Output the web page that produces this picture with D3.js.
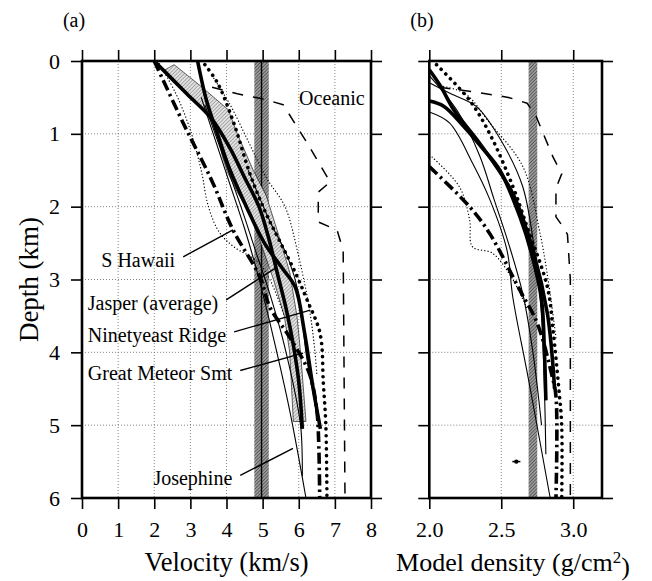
<!DOCTYPE html>
<html>
<head>
<meta charset="utf-8">
<script src="https://cdn.jsdelivr.net/npm/d3@7/dist/d3.min.js"></script>
<style>
  body { margin: 0; background: #fff; }
  svg text { font-family: "Liberation Serif", "DejaVu Serif", serif !important; fill: #000; }
</style>
</head>
<body>
<div id="chart"></div>
<script>
// ---------- data: [value, depth km] ----------
var velTicks = [0, 1, 2, 3, 4, 5, 6, 7, 8];
var denTicks = [2.0, 2.5, 3.0];
var depthTicks = [0, 1, 2, 3, 4, 5, 6];

// panel (a) velocity profiles
var velOceanic = [[3.6,0.36],[4.3,0.45],[5.0,0.52],[5.57,0.6],[6.2,1.1],[6.87,1.66],[6.54,1.8],[6.54,2.21],[7.06,2.32],[7.23,2.6],[7.28,6.0]];
var velHawaii = [[2.0,0],[2.8,0.85],[3.6,1.65],[4.18,2.32],[4.93,2.97],[5.2,3.38],[5.76,3.8],[6.3,4.3],[6.5,4.8],[6.55,5.2],[6.58,6.0]];
var velHawaiiB = [[2.1,0],[2.6,0.45],[3.0,0.95],[3.3,1.5],[3.5,2.0],[3.8,2.35],[4.2,2.55],[4.85,2.75],[5.2,3.0],[5.6,3.5]];
var velJasper = [[2.0,0],[2.9,0.45],[3.6,0.8],[4.1,1.2],[4.5,1.6],[4.9,2.0],[5.15,2.4],[5.4,2.9],[5.65,3.4],[5.85,3.9],[6.0,4.4],[6.1,5.05]];
var velJasperLo = [[2.3,0.12],[2.9,0.45],[3.35,0.67],[3.7,0.85],[3.78,1.05],[3.88,1.3],[4.02,1.52],[4.3,1.8],[4.65,2.1],[4.95,2.5],[5.3,3.0],[5.6,3.5],[5.75,4.0],[5.85,4.95]];
var velJasperHi = [[2.55,0.05],[3.3,0.35],[4.05,0.67],[4.3,1.0],[4.74,1.5],[5.1,1.85],[5.45,2.4],[5.75,2.9],[5.95,3.5],[6.05,4.0],[6.2,4.95]];
var velNinety = [[3.4,0.05],[3.75,0.3],[4.2,0.85],[4.65,1.55],[5.1,2.1],[5.5,2.5],[5.9,2.9],[6.23,3.28],[6.59,3.74],[6.68,4.42],[6.75,5.0],[6.78,6.0]];
var velNinetyB = [[3.6,0.2],[4.1,0.6],[4.6,1.1],[5.1,1.6],[5.62,2.0],[5.96,2.6],[6.3,3.42],[6.45,4.0],[6.5,4.3]];
var velMeteor = [[3.2,0],[3.45,0.55],[3.75,1.0],[4.1,1.5],[4.55,2.0],[5.05,2.5],[5.55,2.85],[5.9,3.1],[6.15,3.7],[6.4,4.5],[6.6,5.05]];
var velMeteorB = [[4.6,1.5],[5.2,2.2],[5.7,2.7],[6.0,3.2],[6.2,4.0],[6.35,4.45],[6.45,4.6]];
var velJoseA = [[3.3,0.5],[3.7,1.1],[4.1,1.7],[4.5,2.3],[4.85,2.9],[5.3,3.8],[5.75,4.8],[6.2,6.0]];
var velJoseB = [[3.4,0.6],[3.9,1.3],[4.4,2.0],[4.8,2.6],[5.2,3.2],[5.6,3.9],[6.05,5.0],[6.1,5.7]];
var velBand = [4.77, 5.17], velBandLine = 4.97;

// panel (b) density profiles
var denOceanic = [[2.07,0.36],[2.3,0.42],[2.55,0.5],[2.68,0.58],[2.74,0.75],[2.86,1.32],[2.92,1.55],[2.88,1.75],[2.88,2.14],[2.92,2.25],[2.96,2.38],[2.98,3.0],[2.98,6.0]];
var denThickA = [[2.0,0.55],[2.1,0.62],[2.24,0.9],[2.37,1.2],[2.49,1.5],[2.63,2.14],[2.71,2.64],[2.78,3.28],[2.8,4.0],[2.81,4.66]];
var denThickB = [[2.0,0.12],[2.08,0.35],[2.17,0.67],[2.35,1.13],[2.58,1.82],[2.72,2.6],[2.82,3.46],[2.86,4.2],[2.87,4.5]];
var denNinety = [[2.05,0.05],[2.28,0.54],[2.42,1.0],[2.58,1.72],[2.68,2.28],[2.82,3.1],[2.86,3.7],[2.9,4.5],[2.92,5.0],[2.92,6.0]];
var denHawaii = [[2.0,1.45],[2.28,2.0],[2.42,2.37],[2.63,3.15],[2.75,3.6],[2.85,4.3],[2.88,4.6],[2.88,6.0]];
var denHawaiiB = [[2.02,1.32],[2.21,1.73],[2.28,2.18],[2.3,2.55],[2.44,2.64],[2.58,3.0],[2.68,3.4]];
var denNinetyB = [[2.1,0.35],[2.25,0.45],[2.42,0.85],[2.65,1.45],[2.77,2.37],[2.84,3.2],[2.88,3.8]];
var denThinA = [[2.0,0.3],[2.15,0.45],[2.33,0.63],[2.51,1.13],[2.65,1.73],[2.74,2.73],[2.78,3.5],[2.8,4.5],[2.81,5.4]];
var denThinB = [[2.0,0.7],[2.14,0.85],[2.3,1.4],[2.42,1.9],[2.54,2.6],[2.58,3.24],[2.69,4.38],[2.84,6.0]];
var denThinC = [[2.0,0.2],[2.2,0.7],[2.35,1.3],[2.45,1.9],[2.55,2.5],[2.65,3.2],[2.72,4.0],[2.78,5.0]];
var denBand = [2.69, 2.75];
var errBar = {x: 2.605, dx: 0.028, y: 5.5};

// label text, where it ends [value, depth], where the leader points [value, depth]
var labelsA = [
  {text: "Oceanic", at: [6.01, 0.51], anchor: "start", to: null},
  {text: "S Hawaii", at: [2.58, 2.73], anchor: "end", to: [4.18, 2.32]},
  {text: "Jasper (average)", at: [3.77, 3.32], anchor: "end", to: [5.4, 2.83]},
  {text: "Ninetyeast Ridge", at: [3.99, 3.76], anchor: "end", to: [6.32, 3.42]},
  {text: "Great Meteor Smt", at: [4.16, 4.29], anchor: "end", to: [6.12, 4.01]},
  {text: "Josephine", at: [4.16, 5.73], anchor: "end", to: [5.84, 5.32]}
];

// ---------- layout ----------
var W = 652, H = 581;
var svg = d3.select("#chart").append("svg").attr("width", W).attr("height", H);

var yA = d3.scaleLinear().domain([0, 6]).range([61, 498]);
var xA = d3.scaleLinear().domain([0, 8]).range([82, 371]);
var xB = d3.scaleLinear().domain([2.0, 3.2]).range([429.3, 602]);

var defs = svg.append("defs");
function hatch(id, color, bg, gap, w){
  var p = defs.append("pattern").attr("id", id).attr("patternUnits", "userSpaceOnUse")
    .attr("width", gap).attr("height", gap).attr("patternTransform", "rotate(45)");
  p.append("rect").attr("width", gap).attr("height", gap).attr("fill", bg);
  p.append("line").attr("x1", 0).attr("y1", 0).attr("x2", 0).attr("y2", gap)
    .attr("stroke", color).attr("stroke-width", w);
}
hatch("hatchDark", "#333", "#9a9a9a", 2.4, 1.1);
hatch("hatchLight", "#555", "#e2e2e2", 2.6, 0.8);

var styles = {
  thick:   {w: 3.6, dash: null, cap: "butt"},
  thin:    {w: 1.1, dash: null, cap: "butt"},
  dashed:  {w: 1.5, dash: "11,10", cap: "butt"},
  dashdot: {w: 3.6, dash: "11,4,2.5,4", cap: "butt"},
  bigdot:  {w: 3.6, dash: "0.1,6.5", cap: "round"},
  dotted:  {w: 1.3, dash: "0.1,3.2", cap: "round"}
};

function drawPanel(x, gridX){
  var g = svg.append("g");
  var x0 = x.range()[0], x1 = x.range()[1], y0 = yA.range()[0], y1 = yA.range()[1];

  // dotted grid
  g.selectAll(".gx").data(gridX).enter().append("line")
    .attr("x1", d => x(d)).attr("x2", d => x(d)).attr("y1", y0).attr("y2", y1)
    .attr("stroke", "#666").attr("stroke-width", 0.8).attr("stroke-dasharray", "1,2");
  g.selectAll(".gy").data(depthTicks.slice(1, -1)).enter().append("line")
    .attr("x1", x0).attr("x2", x1).attr("y1", d => yA(d)).attr("y2", d => yA(d))
    .attr("stroke", "#666").attr("stroke-width", 0.8).attr("stroke-dasharray", "1,2");
  return g;
}

function frame(x, ticksX, fmt, leftLabels){
  var g = svg.append("g");
  var x0 = x.range()[0], x1 = x.range()[1], y0 = yA.range()[0], y1 = yA.range()[1];

  var top = g.append("g").attr("transform", "translate(0," + y0 + ")")
    .call(d3.axisTop(x).tickValues(ticksX).tickSize(11).tickSizeOuter(0).tickFormat(""));
  var bot = g.append("g").attr("transform", "translate(0," + y1 + ")")
    .call(d3.axisBottom(x).tickValues(ticksX).tickSize(11).tickSizeOuter(0).tickPadding(12).tickFormat(fmt));
  var left = g.append("g").attr("transform", "translate(" + x0 + ",0)")
    .call(d3.axisLeft(yA).tickValues(depthTicks).tickSize(11).tickSizeOuter(0).tickPadding(11)
      .tickFormat(leftLabels ? d3.format("d") : ""));
  var right = g.append("g").attr("transform", "translate(" + x1 + ",0)")
    .call(d3.axisRight(yA).tickValues(depthTicks).tickSize(11).tickSizeOuter(0).tickFormat(""));
  [top, bot, left, right].forEach(function(a){
    a.attr("font-family", null).attr("font-size", null);
    a.select(".domain").remove();
    a.selectAll(".tick line").attr("stroke-width", 1.6);
    a.selectAll("text").style("font-size", "22px");
  });
  g.append("rect").attr("x", x0).attr("y", y0).attr("width", x1 - x0).attr("height", y1 - y0)
    .attr("fill", "none").attr("stroke", "#000").attr("stroke-width", 2.6);
}

function curve(g, x, pts, st, smooth){
  var s = styles[st];
  var line = d3.line().x(d => x(d[0])).y(d => yA(d[1]))
    .curve(smooth ? d3.curveCatmullRom.alpha(0.5) : d3.curveLinear);
  g.append("path").datum(pts).attr("d", line).attr("fill", "none")
    .attr("stroke", "#000").attr("stroke-width", s.w)
    .attr("stroke-dasharray", s.dash).attr("stroke-linecap", s.cap)
    .attr("stroke-linejoin", "round");
}

// ---------- panel (a) ----------
var gA = drawPanel(xA, velTicks.slice(1, -1));
gA.append("rect").attr("x", xA(velBand[0])).attr("y", yA(0))
  .attr("width", xA(velBand[1]) - xA(velBand[0])).attr("height", yA(6) - yA(0))
  .attr("fill", "url(#hatchDark)");
gA.append("line").attr("x1", xA(velBandLine)).attr("x2", xA(velBandLine))
  .attr("y1", yA(0)).attr("y2", yA(6)).attr("stroke", "#000").attr("stroke-width", 1.4);

var env = velJasperLo.concat(velJasperHi.slice().reverse());
gA.append("path").datum(env)
  .attr("d", d3.line().x(d => xA(d[0])).y(d => yA(d[1])).curve(d3.curveLinearClosed))
  .attr("fill", "url(#hatchLight)").attr("stroke", "#000").attr("stroke-width", 0.6);

curve(gA, xA, velOceanic, "dashed", false);
curve(gA, xA, velHawaiiB, "dotted", true);
curve(gA, xA, velNinetyB, "dotted", true);
curve(gA, xA, velJoseA, "thin", true);
curve(gA, xA, velJoseB, "thin", true);
curve(gA, xA, velMeteorB, "thin", true);
curve(gA, xA, velHawaii, "dashdot", true);
curve(gA, xA, velNinety, "bigdot", true);
curve(gA, xA, velJasper, "thick", true);
curve(gA, xA, velMeteor, "thick", true);

labelsA.forEach(function(l){
  var tx = xA(l.at[0]), ty = yA(l.at[1]);
  gA.append("text").attr("x", tx).attr("y", ty).attr("text-anchor", l.anchor)
    .attr("dy", "0.35em").style("font-size", "20px").text(l.text);
  if (l.to) {
    gA.append("line").attr("x1", tx + 8).attr("y1", ty - 3)
      .attr("x2", xA(l.to[0])).attr("y2", yA(l.to[1]))
      .attr("stroke", "#000").attr("stroke-width", 1.4);
  }
});
frame(xA, velTicks, d3.format("d"), true);

// ---------- panel (b) ----------
var gB = drawPanel(xB, [2.5, 3.0]);
gB.append("rect").attr("x", xB(denBand[0])).attr("y", yA(0))
  .attr("width", xB(denBand[1]) - xB(denBand[0])).attr("height", yA(6) - yA(0))
  .attr("fill", "url(#hatchDark)");

curve(gB, xB, denOceanic, "dashed", false);
curve(gB, xB, denHawaiiB, "dotted", true);
curve(gB, xB, denNinetyB, "dotted", true);
curve(gB, xB, denThinA, "thin", true);
curve(gB, xB, denThinB, "thin", true);
curve(gB, xB, denThinC, "thin", true);
curve(gB, xB, denHawaii, "dashdot", true);
curve(gB, xB, denNinety, "bigdot", true);
curve(gB, xB, denThickA, "thick", true);
curve(gB, xB, denThickB, "thick", true);

gB.append("line").attr("x1", xB(errBar.x - errBar.dx)).attr("x2", xB(errBar.x + errBar.dx))
  .attr("y1", yA(errBar.y)).attr("y2", yA(errBar.y)).attr("stroke", "#000").attr("stroke-width", 1.5);
gB.append("circle").attr("cx", xB(errBar.x)).attr("cy", yA(errBar.y)).attr("r", 2.2).attr("fill", "#000");

frame(xB, denTicks, d3.format(".1f"), false);

// ---------- titles ----------
svg.append("text").attr("x", 74).attr("y", 27).attr("text-anchor", "middle")
  .style("font-size", "20px").text("(a)");
svg.append("text").attr("x", 422).attr("y", 27).attr("text-anchor", "middle")
  .style("font-size", "20px").text("(b)");

svg.append("text").attr("x", (xA.range()[0] + xA.range()[1]) / 2).attr("y", 571)
  .attr("text-anchor", "middle").style("font-size", "26.5px").text("Velocity (km/s)");
var mt = svg.append("text").attr("x", 513).attr("y", 571)
  .attr("text-anchor", "middle").style("font-size", "26px");
mt.append("tspan").text("Model density (g/cm");
mt.append("tspan").attr("dy", "-0.45em").style("font-size", "17px").text("2");
mt.append("tspan").attr("dy", "0.45em").text(")");

svg.append("text").attr("transform", "translate(38," + (yA(3)) + ") rotate(-90)")
  .attr("text-anchor", "middle").style("font-size", "27px").text("Depth (km)");
</script>
</body>
</html>
